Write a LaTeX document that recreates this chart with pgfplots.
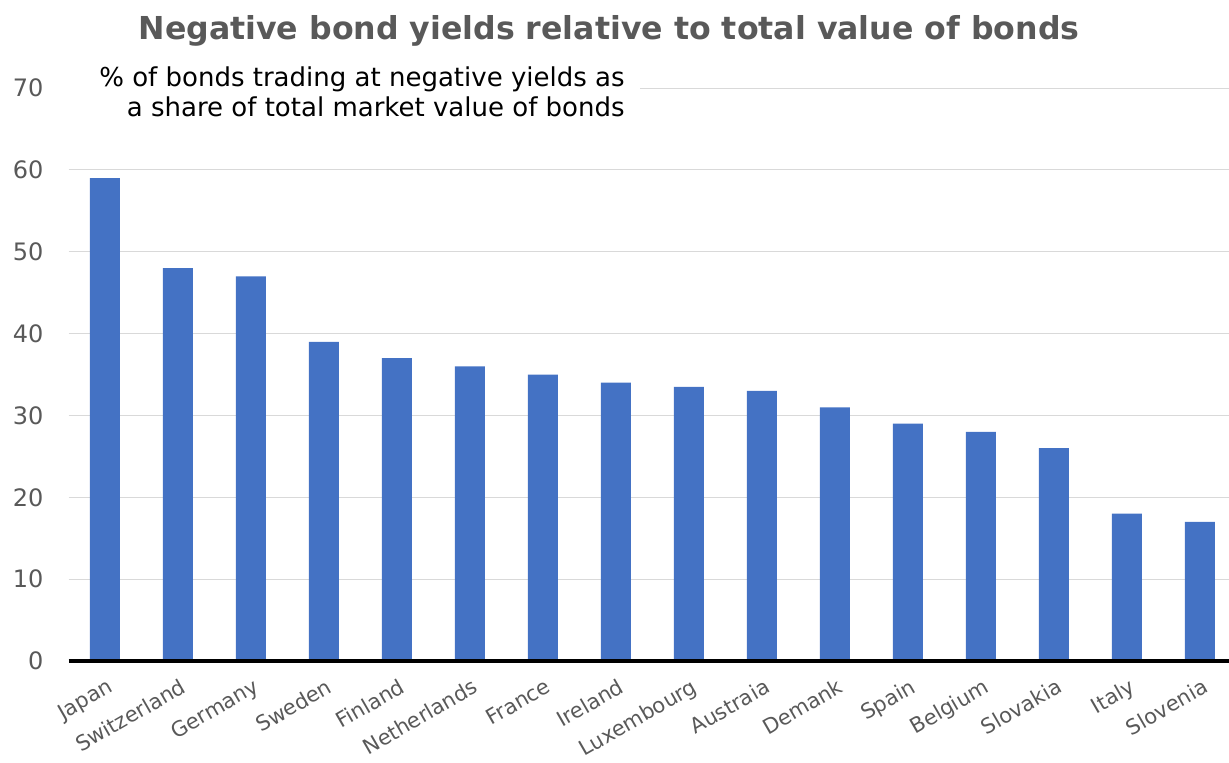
\documentclass[border=0pt]{standalone}
\usepackage{fontspec}
\setmainfont{DejaVu Sans}
\usepackage{pgfplots}
\pgfplotsset{compat=1.18}
\definecolor{barblue}{HTML}{4472C4}
\definecolor{txtgrey}{HTML}{595959}
\definecolor{gridgrey}{HTML}{D9D9D9}
\begin{document}
\begin{tikzpicture}
\path[use as bounding box] (0,0) rectangle (614.5pt,381pt);
\begin{axis}[
  at={(34.25pt,50.5pt)}, anchor=south west,
  scale only axis, width=580.25pt, height=286.5pt,
  xmin=-0.5, xmax=15.4, ymin=0, ymax=70,
  ybar, bar width=15pt,
  axis line style={draw=none},
  ytick={0,10,...,70},
  ymajorgrids, grid style={gridgrey, line width=0.5pt},
  major tick length=0pt,
  xtick={0,...,15},
  xticklabels={Japan,Switzerland,Germany,Sweden,Finland,Netherlands,France,Ireland,Luxembourg,Austraia,Demank,Spain,Belgium,Slovakia,Italy,Slovenia},
  xticklabel style={rotate=30, anchor=north east, font=\fontsize{10.5}{12}\selectfont, text=txtgrey, xshift=0pt, yshift=-4pt},
  yticklabel style={font=\fontsize{12}{14}\selectfont, text=txtgrey, xshift=-9pt},
  /pgf/number format/assume math mode=true,
  clip=false,
]
\addplot[fill=barblue, draw=none] coordinates {
(0,59) (1,48) (2,47) (3,39) (4,37) (5,36) (6,35) (7,34) (8,33.5) (9,33) (10,31) (11,29) (12,28) (13,26) (14,18) (15,17)};
\draw[black, line width=2pt] (axis cs:-0.5,0) -- (axis cs:15.4,0);
\end{axis}
\fill[white] (34pt,329pt) rectangle (320pt,346pt);
\node[anchor=east, font=\fontsize{13}{15}\selectfont, align=right, inner sep=0pt] at (312.5pt,335pt) {\% of bonds trading at negative yields as\\[0pt]a share of total market value of bonds};
\node[font=\bfseries\fontsize{15.8}{18}\selectfont, text=txtgrey] at (304.5pt,365.5pt) {Negative bond yields relative to total value of bonds};
\end{tikzpicture}
\end{document}
